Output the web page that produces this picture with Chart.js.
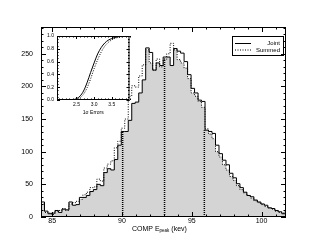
<!DOCTYPE html>
<html>
<head>
<meta charset="utf-8">
<script src="https://cdn.jsdelivr.net/npm/chart.js@4.4.1/dist/chart.umd.min.js"></script>
<style>
  html, body { margin: 0; padding: 0; background: #fff; }
  #wrap { position: relative; width: 311px; height: 249px; }
  #mainChart { position: absolute; left: 0; top: 0; }
  #insetChart { position: absolute; left: 40px; top: 30px; }
</style>
</head>
<body>
<div id="wrap">
  <canvas id="mainChart" width="311" height="249"></canvas>
  <canvas id="insetChart" width="100" height="86"></canvas>
</div>
<script>
/**************** Data ****************/
// histogram bins (keV)
const binStart = 84.2;
const binWidth = 0.25;
const jointCounts = [
  23, 9, 5, 6, 10, 7, 12, 11, 23, 18,
  19, 30, 30, 33, 39, 42, 50, 48, 68, 74,
  72, 88, 110, 131, 131, 148, 174, 176, 190, 210,
  259, 252, 225, 236, 232, 245, 245, 232, 258, 254,
  251, 238, 218, 197, 190, 179, 177, 133, 131, 128,
  110, 97, 87, 80, 67, 60, 51, 45, 38, 33,
  31, 26, 23, 20, 18, 14, 13, 10, 8, 5, 10,
];
const summedCounts = [
  20, 7, 6, 4, 9, 10, 13, 10, 20, 22,
  24, 27, 34, 38, 45, 46, 58, 55, 75, 81,
  86, 106, 116, 136, 150, 185, 201, 199, 216, 233,
  256, 236, 225, 242, 230, 241, 250, 266, 256, 241,
  236, 228, 212, 190, 185, 177, 168, 135, 127, 120,
  100, 92, 80, 72, 62, 56, 48, 42, 37, 33,
  29, 25, 22, 19, 16, 14, 12, 9, 7, 6, 9,
];
// mean and 1 sigma markers
const sigmaMarks = [90.05, 93.05, 95.9];
const sigmaHeights = [131, 243, 133];

const xTicks = [85, 90, 95, 100];
const yTicks = [0, 50, 100, 150, 200, 250];

// inset: cumulative distribution of 1 sigma errors
const errValues = [1.9, 2.3, 2.4, 2.5, 2.6, 2.7, 2.8, 2.9, 3.0, 3.1, 3.2, 3.3, 3.4, 3.5, 3.6, 3.7, 3.8, 3.9, 4.0];
const errJoint = [0, 0, 0.005, 0.02, 0.06, 0.14, 0.27, 0.43, 0.58, 0.72, 0.82, 0.89, 0.935, 0.96, 0.98, 0.99, 0.997, 1, 1];
const errSummed = [0, 0, 0, 0.01, 0.035, 0.09, 0.19, 0.33, 0.49, 0.63, 0.75, 0.84, 0.9, 0.94, 0.965, 0.98, 0.99, 0.997, 1];
const insetXTicks = [2.5, 3.0, 3.5];
const insetYTicks = [0, 0.2, 0.4, 0.6, 0.8, 1.0];

const fontFamily = "'Liberation Sans', Arial, Helvetica, sans-serif";

function stepPoints(counts) {
  const pts = counts.map((c, i) => ({ x: binStart + i * binWidth, y: c }));
  pts.push({ x: binStart + counts.length * binWidth, y: counts[counts.length - 1] });
  return pts;
}
const overlapCounts = jointCounts.map((c, i) => Math.min(c, summedCounts[i]));

/**************** Plugins ****************/
// frame box with inward major/minor ticks on all four sides
const frameTicks = {
  id: "frameTicks",
  afterDatasetsDraw(chart, args, opts) {
    const { ctx, chartArea: a, scales } = chart;
    ctx.save();
    ctx.strokeStyle = "#000";
    ctx.lineWidth = 1;
    ctx.strokeRect(a.left + 0.5, a.top + 0.5, a.right - a.left - 1, a.bottom - a.top - 1);

    const minors = (scale, step) => {
      const out = [];
      const n0 = Math.ceil(scale.min / step - 1e-9);
      for (let n = n0; n * step <= scale.max + 1e-9; n++) out.push(n * step);
      return out;
    };
    const drawX = (values, len) => {
      values.forEach((v) => {
        const px = Math.round(scales.x.getPixelForValue(v)) + 0.5;
        ctx.beginPath();
        ctx.moveTo(px, a.bottom);
        ctx.lineTo(px, a.bottom - len);
        ctx.moveTo(px, a.top);
        ctx.lineTo(px, a.top + len);
        ctx.stroke();
      });
    };
    const drawY = (values, len) => {
      values.forEach((v) => {
        const py = Math.round(scales.y.getPixelForValue(v)) + 0.5;
        ctx.beginPath();
        ctx.moveTo(a.left, py);
        ctx.lineTo(a.left + len, py);
        ctx.moveTo(a.right, py);
        ctx.lineTo(a.right - len, py);
        ctx.stroke();
      });
    };
    drawX(minors(scales.x, opts.xMinor), opts.minorLen);
    drawY(minors(scales.y, opts.yMinor), opts.minorLen);
    drawX(scales.x.ticks.map((t) => t.value), opts.majorLen);
    drawY(scales.y.ticks.map((t) => t.value), opts.majorLen);
    ctx.restore();
  },
};

const whiteArea = {
  id: "whiteArea",
  beforeDraw(chart) {
    const { ctx, chartArea: a } = chart;
    ctx.save();
    ctx.fillStyle = "#fff";
    ctx.fillRect(a.left, a.top, a.right - a.left, a.bottom - a.top);
    ctx.restore();
  },
};

// x title with subscript and boxed legend for the main plot
const mainDecor = {
  id: "mainDecor",
  afterDraw(chart) {
    const { ctx } = chart;
    ctx.save();
    ctx.fillStyle = "#000";
    ctx.textBaseline = "alphabetic";
    let x = 132;
    const y = 230.5;
    ctx.font = "7px " + fontFamily;
    ctx.fillText("COMP E", x, y);
    x += ctx.measureText("COMP E").width;
    ctx.font = "4.5px " + fontFamily;
    ctx.fillText("peak", x, y + 1.5);
    x += ctx.measureText("peak").width;
    ctx.font = "7px " + fontFamily;
    ctx.fillText(" (kev)", x, y);

    // legend
    ctx.strokeStyle = "#000";
    ctx.lineWidth = 1;
    ctx.strokeRect(232.5, 36.5, 51, 19);
    ctx.font = "6px " + fontFamily;
    ctx.textAlign = "right";
    ctx.textBaseline = "middle";
    const rows = [
      { ds: chart.data.datasets[0], y: 43.5 },
      { ds: chart.data.datasets[1], y: 50 },
    ];
    rows.forEach((r) => {
      ctx.beginPath();
      ctx.setLineDash(r.ds.borderDash || []);
      ctx.moveTo(235, r.y);
      ctx.lineTo(251, r.y);
      ctx.stroke();
      ctx.setLineDash([]);
      ctx.fillText(r.ds.label, 280, r.y);
    });
    ctx.restore();
  },
};

/**************** Main histogram ****************/
const tickFont = { family: fontFamily, size: 7 };

new Chart(document.getElementById("mainChart"), {
  type: "line",
  data: {
    datasets: [
      {
        label: "Joint",
        data: stepPoints(jointCounts),
        stepped: "before",
        borderColor: "#000",
        borderWidth: 1,
        pointRadius: 0,
        fill: false,
        clip: 0,
        order: 1,
      },
      {
        label: "Summed",
        data: stepPoints(summedCounts),
        stepped: "before",
        borderColor: "#000",
        borderWidth: 1,
        borderDash: [1, 1.5],
        pointRadius: 0,
        fill: false,
        clip: 0,
        order: 2,
      },
      {
        label: "overlap",
        data: stepPoints(overlapCounts),
        stepped: "before",
        borderWidth: 0,
        borderColor: "rgba(0,0,0,0)",
        backgroundColor: "#d4d4d4",
        pointRadius: 0,
        fill: "origin",
        clip: 0,
        order: 4,
      },
      ...sigmaMarks.map((m, i) => ({
        label: "sigma" + i,
        data: [
          { x: m, y: 0 },
          { x: m, y: sigmaHeights[i] },
        ],
        borderColor: "#000",
        borderWidth: 1.5,
        borderDash: [1, 1],
        pointRadius: 0,
        fill: false,
        clip: 0,
        order: 3,
      })),
    ],
  },
  options: {
    responsive: false,
    animation: false,
    events: [],
    layout: { padding: { left: 0, right: 25, top: 27, bottom: 0 } },
    plugins: {
      legend: { display: false },
      tooltip: { enabled: false },
      frameTicks: { xMinor: 1, yMinor: 10, majorLen: 5, minorLen: 2.5 },
    },
    scales: {
      x: {
        type: "linear",
        min: 84.2,
        max: 101.75,
        afterBuildTicks: (s) => {
          s.ticks = xTicks.map((v) => ({ value: v }));
        },
        afterFit: (s) => {
          s.height = 32;
        },
        grid: { display: false, drawTicks: false },
        border: { display: false },
        ticks: { font: tickFont, color: "#000", padding: 0, maxRotation: 0, autoSkip: false },
      },
      y: {
        type: "linear",
        min: 0,
        max: 291,
        afterBuildTicks: (s) => {
          s.ticks = yTicks.map((v) => ({ value: v }));
        },
        afterFit: (s) => {
          s.width = 41;
        },
        grid: { display: false, drawTicks: false },
        border: { display: false },
        ticks: { font: tickFont, color: "#000", padding: 8, autoSkip: false },
      },
    },
  },
  plugins: [frameTicks, mainDecor],
});

/**************** Inset CDF ****************/
const insetFont = { family: fontFamily, size: 5 };

new Chart(document.getElementById("insetChart"), {
  type: "line",
  data: {
    datasets: [
      {
        label: "Joint",
        data: errValues.map((v, i) => ({ x: v, y: errJoint[i] })),
        borderColor: "#000",
        borderWidth: 1,
        pointRadius: 0,
        cubicInterpolationMode: "monotone",
        fill: false,
      },
      {
        label: "Summed",
        data: errValues.map((v, i) => ({ x: v, y: errSummed[i] })),
        borderColor: "#000",
        borderWidth: 1,
        borderDash: [1, 1.5],
        pointRadius: 0,
        cubicInterpolationMode: "monotone",
        fill: false,
      },
    ],
  },
  options: {
    responsive: false,
    animation: false,
    events: [],
    layout: { padding: { left: 0, right: 10.5, top: 5.5, bottom: 0 } },
    plugins: {
      legend: { display: false },
      tooltip: { enabled: false },
      frameTicks: { xMinor: 0.1, yMinor: 0.05, majorLen: 3, minorLen: 1.5 },
    },
    scales: {
      x: {
        type: "linear",
        min: 1.95,
        max: 4.0,
        afterBuildTicks: (s) => {
          s.ticks = insetXTicks.map((v) => ({ value: v }));
        },
        afterFit: (s) => {
          s.height = 16;
        },
        grid: { display: false, drawTicks: false },
        border: { display: false },
        title: { display: true, text: "1σ Errors", font: insetFont, color: "#000", padding: 0 },
        ticks: {
          font: insetFont,
          color: "#000",
          padding: 2,
          maxRotation: 0,
          autoSkip: false,
          callback: (v) => Number(v).toFixed(1),
        },
      },
      y: {
        type: "linear",
        min: 0,
        max: 1,
        afterBuildTicks: (s) => {
          s.ticks = insetYTicks.map((v) => ({ value: v }));
        },
        afterFit: (s) => {
          s.width = 17;
        },
        grid: { display: false, drawTicks: false },
        border: { display: false },
        ticks: {
          font: insetFont,
          color: "#000",
          padding: 3,
          autoSkip: false,
          callback: (v) => Number(v).toFixed(1),
        },
      },
    },
  },
  plugins: [whiteArea, frameTicks],
});
</script>
</body>
</html>
